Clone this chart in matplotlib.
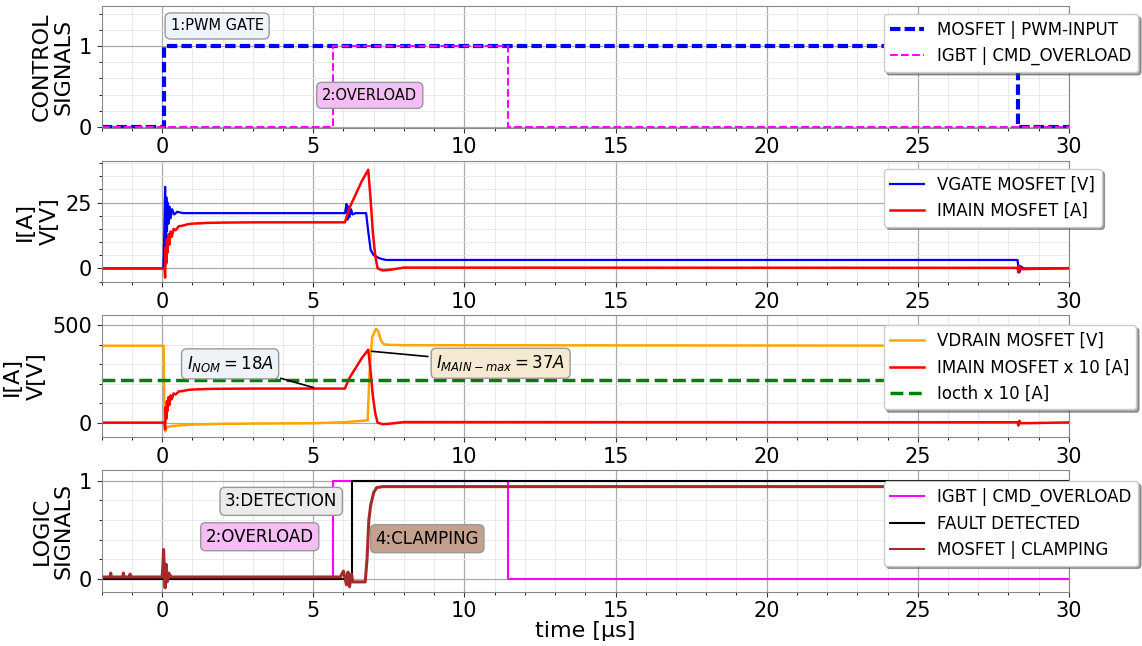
import numpy as np
import matplotlib
matplotlib.use("Agg")
import matplotlib.pyplot as plt
from matplotlib.ticker import AutoMinorLocator

# Control signals (step edges, values hold until next time)
t_pwm = [-2, 0.07, 28.3, 30]
pwm_input = [0, 1, 0, 0]
t_cmd = [-2, 5.67, 11.43, 30]
cmd_overload = [0, 1, 0, 0]
t_fault = [-2, 6.27, 30]
fault_detected = [0, 1, 1]

# Gate voltage of the MOSFET [V]
t_vgate = [-2, 0.04, 0.07, 0.1, 0.12, 0.14, 0.16, 0.18, 0.21, 0.24, 0.28, 0.33, 0.4,
           0.5, 0.7, 6.05, 6.1, 6.13, 6.16, 6.2, 6.25, 6.3, 6.4, 6.75, 6.82, 6.9,
           7.0, 7.2, 7.4, 28.3, 28.33, 28.36, 28.4, 28.5, 30]
vgate = [0, 0, 12, 31, 8, 27, 14, 25, 17, 23.5, 19, 22.5, 20.5,
         21.5, 21, 21, 24.5, 18.5, 23.5, 19.5, 22.5, 20.5, 21, 21, 14, 7,
         5, 3.8, 3.2, 3.2, 0.5, -1.5, 0.8, 0, 0]

# Main current of the MOSFET [A]
t_imain = [-2, 0.08, 0.1, 0.12, 0.14, 0.16, 0.18, 0.21, 0.24, 0.28, 0.32, 0.38, 0.45,
           0.55, 0.7, 0.85, 1.0, 1.5, 2.0, 3.0, 6.05, 6.1, 6.2, 6.4, 6.6, 6.82,
           6.9, 6.97, 7.05, 7.13, 7.3, 7.5, 8.0, 28.3, 28.33, 28.36, 28.4, 30]
imain = [0, 0, -3.5, 8, 2, 11, 6, 13, 9, 14, 12, 15, 14.5,
         16, 16.3, 16.8, 17, 17.3, 17.4, 17.5, 17.5, 19.5, 23, 28, 33, 37.5,
         26, 14, 5, 0, -0.8, -0.6, 0.3, 0.2, -1.5, 1, -0.3, 0.1]

# Drain voltage of the MOSFET [V]
t_vdrain = [-2, 0.05, 0.08, 0.1, 0.15, 0.3, 0.6, 1.0, 2.0, 5.0, 6.0, 6.5, 6.8,
            6.86, 6.95, 7.08, 7.15, 7.25, 7.35, 7.5, 8.0, 30]
vdrain = [395, 395, 0, -45, -25, -18, -14, -10, -6, -3, 2, 8, 12,
          250, 440, 482, 470, 418, 402, 400, 398, 395]

# Overcurrent threshold x 10 [A]
t_ioc = [-2, 30]
ioc_th = [220, 220]

# Clamping signal of the MOSFET
t_clamp = [-2, -1.72, -1.7, -1.68, -1.3, -1.28, -1.26, -1.08, -1.06, -1.04, 0.0, 0.03,
           0.05, 0.08, 0.1, 0.13, 0.17, 0.22, 0.3, 0.5, 5.9, 6.0, 6.1, 6.15, 6.2,
           6.27, 6.3, 6.72, 6.78, 6.84, 6.9, 7.0, 7.1, 7.3, 8.0, 30]
clamp = [0.02, 0.02, 0.06, 0.02, 0.02, 0.06, 0.02, 0.02, 0.05, 0.02, 0.02, 0.15,
         0.3, 0.05, -0.09, 0.15, -0.03, 0.06, 0.02, 0.02, 0.02, 0.08, -0.06, 0.07, -0.08,
         0.05, -0.03, -0.03, 0.2, 0.6, 0.75, 0.88, 0.93, 0.94, 0.94, 0.94]

fig, axs = plt.subplots(4, 1, figsize=(11.42, 6.46), dpi=100)
plt.subplots_adjust(left=0.089, right=0.936, top=0.991, bottom=0.084, hspace=0.27)

leg_kw = dict(loc="upper left", fontsize=12, shadow=True, framealpha=1.0)
box_ec = "#999999"

# Panel 1: control signals
ax = axs[0]
ax.plot(t_pwm, pwm_input, drawstyle="steps-post", color="blue", lw=3, dashes=(2.5, 1),
        label="MOSFET | PWM-INPUT")
ax.plot(t_cmd, cmd_overload, drawstyle="steps-post", color="magenta", lw=1.5, ls="--",
        label="IGBT | CMD_OVERLOAD")
ax.set_ylim(-0.01, 1.5)
ax.set_yticks([0, 1])
ax.set_ylabel("CONTROL\nSIGNALS", fontsize=16, linespacing=1.1)
ax.legend(bbox_to_anchor=(0.80, 1.0), **leg_kw)
ax.text(1.82, 1.25, "1:PWM GATE", fontsize=10.5, ha="center", va="center",
        bbox=dict(boxstyle="round,pad=0.38", fc="#eef4fb", ec=box_ec))
ax.text(6.87, 0.39, "2:OVERLOAD", fontsize=10.5, ha="center", va="center",
        bbox=dict(boxstyle="round,pad=0.38", fc="#f4bdf4", ec=box_ec))

# Panel 2: gate voltage and main current
ax = axs[1]
ax.plot(t_vgate, vgate, color="blue", lw=1.6, label="VGATE MOSFET [V]")
ax.plot(t_imain, imain, color="red", lw=1.8, label="IMAIN MOSFET [A]")
ax.set_ylim(-5.3, 41)
ax.set_yticks([0, 25])
ax.set_ylabel("I[A]\nV[V]", fontsize=16, linespacing=1.3)
ax.legend(bbox_to_anchor=(0.80, 1.0), **leg_kw)

# Panel 3: drain voltage, main current x 10 and threshold
ax = axs[2]
ax.plot(t_vdrain, vdrain, color="orange", lw=1.8, label="VDRAIN MOSFET [V]")
ax.plot(t_imain, np.array(imain) * 10, color="red", lw=1.8, label="IMAIN MOSFET x 10 [A]")
ax.plot(t_ioc, ioc_th, color="green", lw=2.5, ls="--", label="Iocth x 10 [A]")
ax.set_ylim(-74, 552)
ax.set_yticks([0, 500])
ax.set_ylabel("I[A]\nV[V]", fontsize=16, linespacing=1.3)
ax.legend(bbox_to_anchor=(0.80, 0.985), **leg_kw)
ax.annotate(r"$I_{NOM} = 18A$", xy=(5.1, 176), xytext=(2.25, 302), fontsize=12,
            ha="center", va="center",
            bbox=dict(boxstyle="round,pad=0.3", fc="#eef3f8", ec=box_ec),
            arrowprops=dict(arrowstyle="-", color="black", lw=1.2))
ax.annotate(r"$I_{MAIN-max} = 37A$", xy=(6.84, 368), xytext=(11.2, 305), fontsize=12,
            ha="center", va="center",
            bbox=dict(boxstyle="round,pad=0.3", fc="#f6e9d2", ec=box_ec),
            arrowprops=dict(arrowstyle="-", color="black", lw=1.2))

# Panel 4: logic signals
ax = axs[3]
ax.plot(t_cmd, cmd_overload, drawstyle="steps-post", color="magenta", lw=1.5,
        label="IGBT | CMD_OVERLOAD")
ax.plot(t_fault, fault_detected, drawstyle="steps-post", color="black", lw=1.5,
        label="FAULT DETECTED")
ax.plot(t_clamp, clamp, color="brown", lw=2.2, label="MOSFET | CLAMPING")
ax.set_ylim(-0.13, 1.11)
ax.set_yticks([0, 1])
ax.set_ylabel("LOGIC\nSIGNALS", fontsize=16, linespacing=1.1)
ax.set_xlabel("time [µs]", fontsize=16, labelpad=0)
leg = ax.legend(bbox_to_anchor=(0.80, 0.975), **leg_kw)
for h in leg.get_lines():
    h.set_linewidth(1.5)
ax.text(3.94, 0.79, "3:DETECTION", fontsize=12, ha="center", va="center",
        bbox=dict(boxstyle="round,pad=0.3", fc="#ebebeb", ec=box_ec))
ax.text(3.23, 0.43, "2:OVERLOAD", fontsize=12, ha="center", va="center",
        bbox=dict(boxstyle="round,pad=0.3", fc="#f4bdf4", ec=box_ec))
ax.text(8.77, 0.41, "4:CLAMPING", fontsize=12, ha="center", va="center",
        bbox=dict(boxstyle="round,pad=0.3", fc="#c4a18c", ec=box_ec))

for ax in axs:
    ax.set_xlim(-2, 30)
    ax.set_xticks([0, 5, 10, 15, 20, 25, 30])
    ax.xaxis.set_minor_locator(AutoMinorLocator(5))
    ax.yaxis.set_minor_locator(AutoMinorLocator(5))
    ax.grid(which="major", color="#aaaaaa", lw=0.9)
    ax.grid(which="minor", color="#e6e6e6", lw=0.6)
    ax.tick_params(labelsize=15, colors="#333333", labelcolor="black")
    for s in ax.spines.values():
        s.set_color("#888888")

plt.savefig("out.png")
